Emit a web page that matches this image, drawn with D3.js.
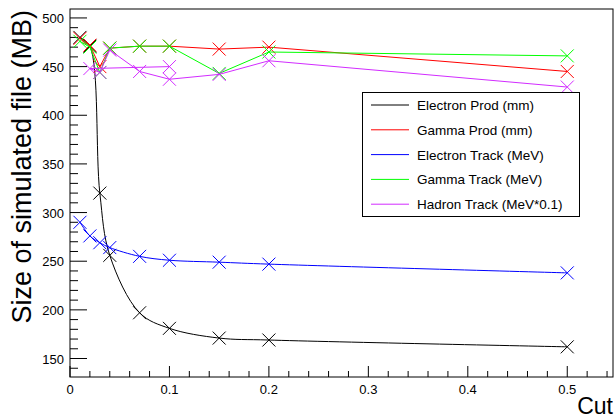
<!DOCTYPE html>
<html><head><meta charset="utf-8">
<script src="https://cdn.jsdelivr.net/npm/d3@7"></script>
<style>body{margin:0;background:#fff}svg{display:block}text{font-family:"Liberation Sans",Arial,sans-serif}</style>
</head><body>
<script>
const cuts = [0.01, 0.02, 0.03, 0.04, 0.07, 0.1, 0.15, 0.2, 0.5];
const hadronCuts = [0.1, 0.02, 0.03, 0.04, 0.07, 0.1, 0.15, 0.2, 0.5];
const electronProd = [480, 471, 320, 256, 197, 181, 171, 169, 162];
const gammaProd = [479, 472, 450, 469, 471, 471, 468, 470, 445];
const electronTrack = [290, 276, 269, 264, 255, 251, 249, 247, 238];
const gammaTrack = [476, 470, 444, 469, 471, 471, 443, 465, 461];
const hadronTrack = [450, 448, 444, 467, 445, 437, 442, 456, 429];
const seriesNames = ["Electron Prod (mm)", "Gamma Prod (mm)", "Electron Track (MeV)", "Gamma Track (MeV)", "Hadron Track (MeV*0.1)"];
const seriesColors = ["#000000", "#ff0000", "#0000ff", "#00ff00", "#d22cff"];
const seriesSmooth = [true, false, true, false, false];
const xTicks = [0, 0.1, 0.2, 0.3, 0.4, 0.5];
const yTicks = [150, 200, 250, 300, 350, 400, 450, 500];

const series = [
  {x: cuts, y: electronProd},
  {x: cuts, y: gammaProd},
  {x: cuts, y: electronTrack},
  {x: cuts, y: gammaTrack},
  {x: hadronCuts, y: hadronTrack}
].map((s, i) => ({...s, name: seriesNames[i], color: seriesColors[i], smooth: seriesSmooth[i]}));

const W = 616, H = 420;
const L = 70, R = 613, T = 9, B = 377;
const svg = d3.select("body").append("svg").attr("width", W).attr("height", H);
const x = d3.scaleLinear().domain([0, 0.546]).range([L, R]);
const y = d3.scaleLinear().domain([131, 509.2]).range([B, T]);

// ticks
const g = svg.append("g");
d3.range(0, 0.5461, 0.02).forEach(v => {
  const major = xTicks.some(t => Math.abs(t - v) < 1e-9);
  g.append("line").attr("x1", x(v)).attr("x2", x(v)).attr("y1", B).attr("y2", B - (major ? 11 : 6))
    .attr("stroke", "#000").attr("stroke-width", 1);
});
xTicks.forEach(v => {
  g.append("text").attr("x", x(v)).attr("y", B + 17).attr("text-anchor", "middle")
    .attr("font-size", 13).text(d3.format("")(v));
});
d3.range(140, 509, 10).forEach(v => {
  const major = v % 50 === 0;
  g.append("line").attr("y1", y(v)).attr("y2", y(v)).attr("x1", L).attr("x2", L + (major ? 17 : 8))
    .attr("stroke", "#000").attr("stroke-width", 1);
});
yTicks.forEach(v => {
  g.append("text").attr("x", L - 6).attr("y", y(v) + 5).attr("text-anchor", "end")
    .attr("font-size", 13).text(v);
});

// series
series.forEach(s => {
  const pts = s.x.map((v, i) => [v, s.y[i]]);
  const line = d3.line().x(d => x(d[0])).y(d => y(d[1])).curve(s.smooth ? d3.curveCatmullRom : d3.curveLinear);
  svg.append("path").attr("d", line(pts)).attr("fill", "none").attr("stroke", s.color).attr("stroke-width", 1);
  const m = 6.5;
  pts.forEach(p => {
    const cx = x(p[0]), cy = y(p[1]);
    svg.append("path").attr("d", `M${cx-m},${cy-m}L${cx+m},${cy+m}M${cx-m},${cy+m}L${cx+m},${cy-m}`)
      .attr("stroke", s.color).attr("stroke-width", 1).attr("fill", "none");
  });
});

// frame
svg.append("rect").attr("x", L).attr("y", T).attr("width", R - L).attr("height", B - T)
  .attr("fill", "none").attr("stroke", "#000").attr("stroke-width", 1);

// axis titles
svg.append("text").attr("x", R).attr("y", 414).attr("text-anchor", "end").attr("font-size", 23).text("Cut");
svg.append("text").attr("transform", `translate(31,${T + 1}) rotate(-90)`).attr("text-anchor", "end")
  .attr("font-size", 27).text("Size of simulated file (MB)");

// legend
const lg = svg.append("g");
lg.append("rect").attr("x", 362.5).attr("y", 92.5).attr("width", 217).attr("height", 124)
  .attr("fill", "#fff").attr("stroke", "#000").attr("stroke-width", 1);
series.forEach((s, i) => {
  const yy = 105 + i * 24.8;
  lg.append("line").attr("x1", 371).attr("x2", 409).attr("y1", yy).attr("y2", yy).attr("stroke", s.color);
  lg.append("text").attr("x", 417).attr("y", yy + 5).attr("font-size", 13.5).text(s.name);
});
</script>
</body></html>
